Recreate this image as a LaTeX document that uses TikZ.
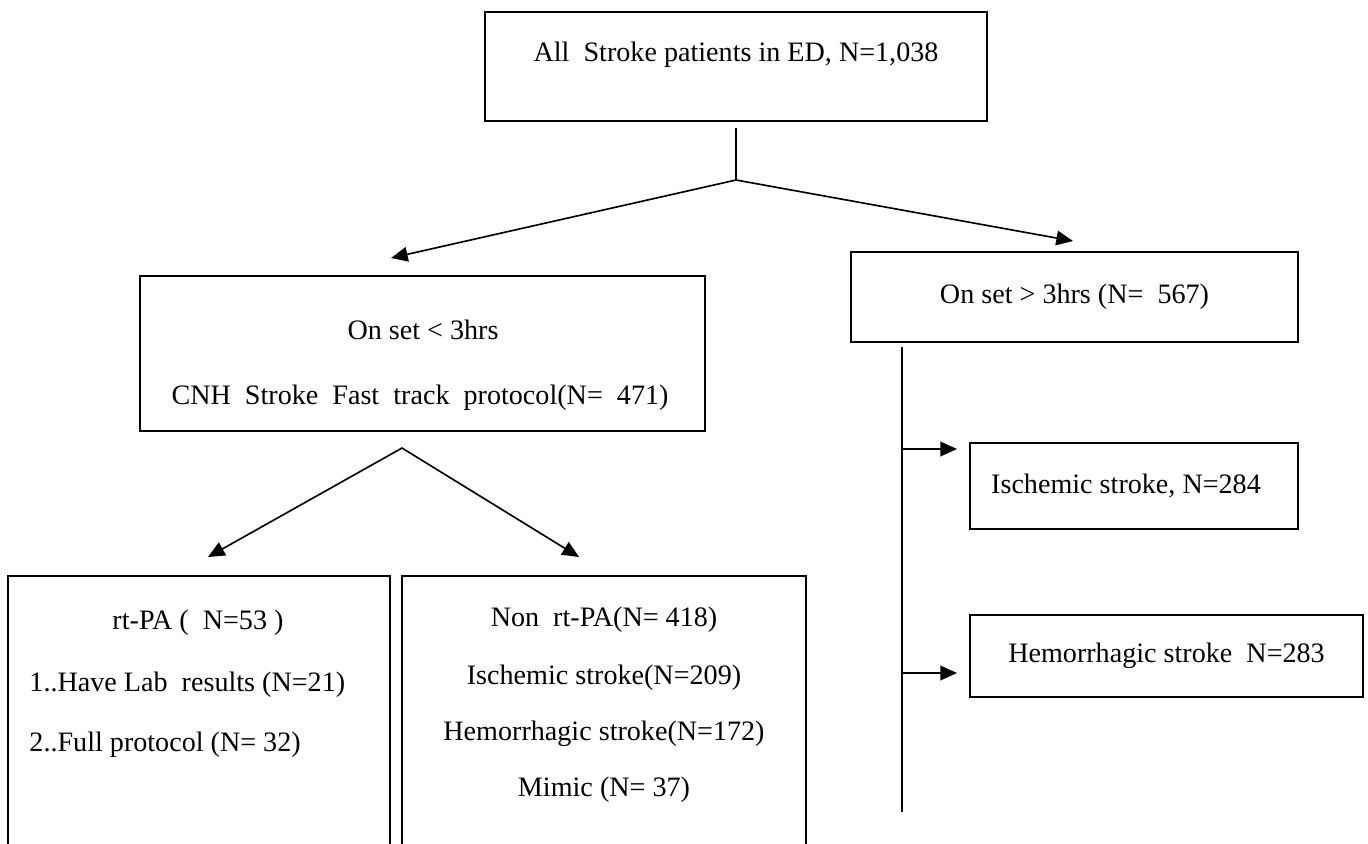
\documentclass[tikz,border=0pt]{standalone}
\usepackage{fontspec}
\setmainfont{Liberation Serif}
\usetikzlibrary{arrows.meta}
\tikzset{box/.style={draw,line width=0.9pt,inner sep=0pt,outer sep=0pt,anchor=north west,font=\fontsize{12}{14}\selectfont},
  txt/.style={font=\fontsize{12}{14}\selectfont,inner sep=0pt},
  link/.style={line width=0.7pt},
  flow/.style={link,-{Triangle[length=2.5mm,width=2.2mm]}},
  split/.style={link,{Triangle[length=2.5mm,width=2.2mm]}-{Triangle[length=2.5mm,width=2.2mm]}}}

\begin{document}
\begin{tikzpicture}[x=0.15mm,y=-0.15mm]
\useasboundingbox (0,0) rectangle (1368,843);
\clip (0,0) rectangle (1368,843);
% boxes
\node[box,minimum width=75.3mm,minimum height=16.35mm] (all) at (485,12) {};
\node[box,minimum width=84.75mm,minimum height=23.25mm] (early) at (140,276) {};
\node[box,minimum width=67.05mm,minimum height=13.5mm] (late) at (851,252) {On set > 3hrs (N=\ \ 567)};
\node[box,minimum width=49.2mm,minimum height=12.9mm] (lateisch) at (970,443) {Ischemic stroke, N=284\hspace*{2.4mm}};
\node[box,minimum width=58.95mm,minimum height=12.3mm] (latehem) at (970,615) {Hemorrhagic stroke\ \ N=283};
\node[box,minimum width=57.3mm,minimum height=45mm] (rtpa) at (8,576) {};
\node[box,minimum width=60.6mm,minimum height=45mm] (nonrtpa) at (402,576) {};
% texts
\node[txt] (alltxt) at (736,55) {All\ \ Stroke patients in ED, N=1,038};
\node[txt] (earlya) at (423,330) {On set < 3hrs};
\node[txt] (earlyb) at (420,398) {CNH\ \ Stroke\ \ Fast\ \ track\ \ protocol(N=\ \ 471)};
\node[txt] (rtpaa) at (198,623) {rt-PA (\ \ N=53 )};
\node[txt,anchor=west] (rtpab) at (29,685) {1..Have Lab\ \ results (N=21)};
\node[txt,anchor=west] (rtpac) at (29,745) {2..Full protocol (N=\ 32)};
\node[txt] (nona) at (604,620) {Non\ \ rt-PA(N=\ 418)};
\node[txt] (nonb) at (604,678) {Ischemic stroke(N=209)};
\node[txt] (nonc) at (604,734) {Hemorrhagic stroke(N=172)};
\node[txt] (nond) at (604,790) {Mimic (N=\ 37)};
% connectors
\coordinate (stem) at (736,128);
\coordinate (fork) at (736,180);
\coordinate (toearly) at (391,258);
\coordinate (tolate) at (1073,241);
\draw[link] (stem) -- (fork);
\draw[split] (toearly) -- (fork) -- (tolate);
\coordinate (apex) at (402,448);
\coordinate (tortpa) at (208,557);
\coordinate (tonon) at (579,557);
\draw[split] (tortpa) -- (apex) -- (tonon);
\coordinate (trunk) at (902,347);
\coordinate (trunkend) at (902,812);
\coordinate (brisch) at (902,449);
\coordinate (brhem) at (902,673);
\draw[link] (trunk) -- (trunkend);
\draw[flow] (brisch) -- ([xshift=-1.95mm]brisch -| lateisch.west);
\draw[flow] (brhem) -- ([xshift=-1.95mm]brhem -| latehem.west);
\end{tikzpicture}
\end{document}
